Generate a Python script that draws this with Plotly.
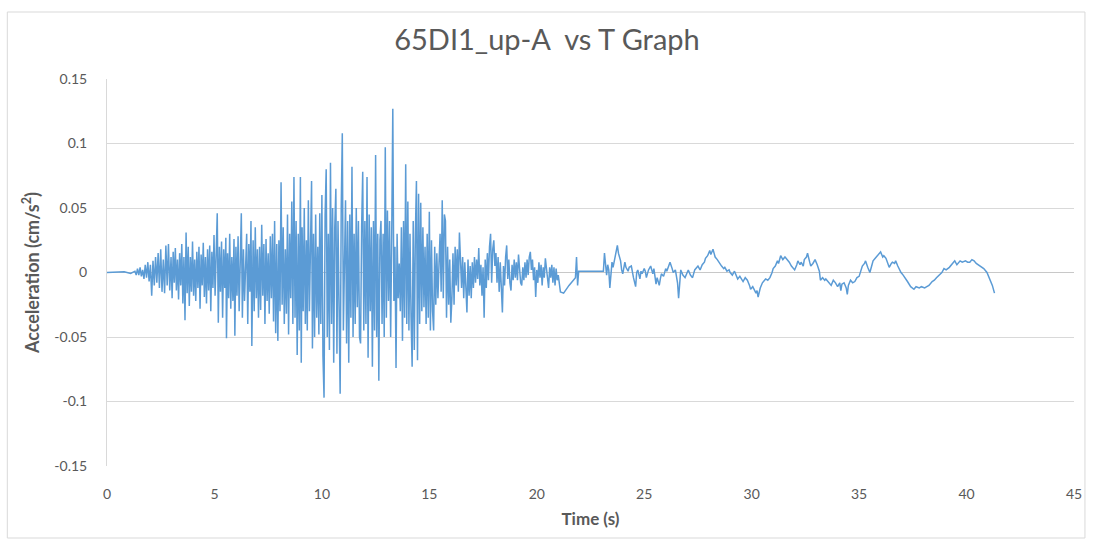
import plotly.graph_objects as go

# ---- data ----
TIME = [
 0, 0.4, 0.8, 1.1, 1.3,
 1.36, 1.42, 1.48, 1.54, 1.60, 1.66, 1.72, 1.78, 1.84, 1.90, 1.96, 2.02, 2.08, 2.14, 2.20,
 2.26, 2.32, 2.38, 2.44, 2.50, 2.56, 2.62, 2.68, 2.74, 2.80, 2.86, 2.92, 2.98,
 3.03, 3.08, 3.13, 3.18, 3.23, 3.28, 3.33, 3.38, 3.43, 3.48, 3.53, 3.58, 3.63, 3.68, 3.73, 3.78, 3.83, 3.88, 3.93, 3.98,
 4.03, 4.08, 4.13, 4.18, 4.23, 4.28, 4.33, 4.38, 4.43, 4.48, 4.53, 4.58, 4.63, 4.68, 4.73, 4.78, 4.83, 4.88, 4.93, 4.98,
 5.03, 5.08, 5.13, 5.18, 5.23, 5.28, 5.33, 5.38, 5.43, 5.48, 5.53, 5.56, 5.61, 5.66, 5.71, 5.76, 5.81, 5.86, 5.91, 5.95,
 6.00, 6.05, 6.10, 6.15, 6.20, 6.25, 6.30, 6.35, 6.40, 6.45, 6.50, 6.55, 6.60, 6.65, 6.70, 6.74, 6.80, 6.85, 6.90, 6.95,
 7.00, 7.05, 7.10, 7.15, 7.20, 7.25, 7.30, 7.35, 7.40, 7.45, 7.50, 7.55, 7.60, 7.65, 7.70, 7.75, 7.80, 7.85, 7.90, 7.95, 8.00,
 8.05, 8.10, 8.15, 8.20, 8.25, 8.30, 8.35, 8.40, 8.45, 8.50, 8.55, 8.60, 8.65, 8.70, 8.75, 8.80, 8.85, 8.90, 8.95, 9.00,
 9.04, 9.08, 9.13, 9.18, 9.23, 9.28, 9.32, 9.37, 9.42, 9.47, 9.52, 9.56, 9.61, 9.66, 9.71, 9.76, 9.81, 9.86, 9.90, 9.95, 10.00,
 10.05, 10.10, 10.15, 10.20, 10.25, 10.30, 10.35, 10.40, 10.45, 10.50, 10.55, 10.60, 10.65, 10.70, 10.75, 10.80, 10.85, 10.90, 10.95, 11.00,
 11.05, 11.10, 11.15, 11.20, 11.25, 11.30, 11.35, 11.40, 11.45, 11.50, 11.55, 11.60, 11.65, 11.70, 11.75, 11.80, 11.85, 11.90, 11.95, 12.00,
 12.05, 12.10, 12.15, 12.20, 12.25, 12.30, 12.35, 12.40, 12.45, 12.50, 12.55, 12.60, 12.65, 12.70, 12.75, 12.80, 12.85, 12.90, 12.95, 13.00,
 13.05, 13.10, 13.15, 13.20, 13.25, 13.30, 13.35, 13.40, 13.45, 13.50, 13.55, 13.60, 13.65, 13.70, 13.75, 13.80, 13.85, 13.90, 13.95, 14.00,
 14.05, 14.10, 14.15, 14.20, 14.25, 14.30, 14.35, 14.40, 14.45, 14.50, 14.55, 14.60, 14.65, 14.70, 14.75, 14.80, 14.85, 14.90, 14.95, 15.00,
 15.05, 15.10, 15.15, 15.20, 15.25, 15.30, 15.35, 15.40, 15.45, 15.50, 15.55, 15.60, 15.65, 15.70, 15.75, 15.80, 15.85, 15.90, 15.95, 16.00,
 16.05, 16.10, 16.15, 16.20, 16.25, 16.30, 16.35, 16.40, 16.45, 16.50, 16.55, 16.60, 16.65, 16.70, 16.75, 16.80, 16.85, 16.90, 16.95, 17.00,
 17.05, 17.10, 17.15, 17.20, 17.25, 17.30, 17.35, 17.40, 17.45, 17.50, 17.55, 17.60, 17.65, 17.70, 17.75, 17.80, 17.85, 17.90, 17.95, 18.00,
 18.05, 18.10, 18.15, 18.20, 18.25, 18.30, 18.35, 18.40, 18.45, 18.50, 18.55, 18.60, 18.65, 18.70, 18.75, 18.80, 18.85, 18.90, 18.95, 19.00,
 19.05, 19.10, 19.15, 19.20, 19.25, 19.30, 19.35, 19.40, 19.45, 19.50, 19.55, 19.60, 19.65, 19.70, 19.75, 19.80, 19.85, 19.90, 19.95, 20.00,
 20.05, 20.10, 20.15, 20.20, 20.25, 20.30, 20.35, 20.40, 20.45, 20.50, 20.55, 20.60, 20.65, 20.70, 20.75, 20.80, 20.85, 20.90, 20.95, 21.00,
 21.05, 21.10, 21.25, 21.50, 21.80, 21.85, 21.90, 21.95, 22.50, 23.10,
 23.15, 23.20, 23.25, 23.30, 23.35, 23.40, 23.45, 23.50, 23.55, 23.65, 23.75, 23.80, 23.90, 23.95, 24.00, 24.10, 24.15, 24.25, 24.30, 24.40,
 24.45, 24.50, 24.60, 24.65, 24.70, 24.80, 24.85, 24.90, 25.00, 25.05, 25.10, 25.20, 25.30, 25.35, 25.40, 25.45, 25.55, 25.60, 25.70, 25.75,
 25.80, 25.90, 26.00, 26.05, 26.15, 26.20, 26.30, 26.35, 26.45, 26.50, 26.55, 26.60, 26.65, 26.70, 26.80, 26.90, 27.00, 27.05, 27.15, 27.25,
 27.35, 27.45, 27.50, 27.60, 27.70, 27.80, 27.85, 27.95, 28.05, 28.10, 28.20, 28.25, 28.30, 28.40, 28.50, 28.60, 28.70, 28.75, 28.85, 28.95,
 29.00, 29.10, 29.20, 29.30, 29.35, 29.45, 29.55, 29.60, 29.70, 29.80, 29.90, 29.95, 30.05, 30.15, 30.20, 30.25, 30.30, 30.40, 30.50, 30.60,
 30.65, 30.75, 30.85, 30.95, 31.00, 31.10, 31.20, 31.25, 31.35, 31.45, 31.55, 31.60, 31.70, 31.75, 31.85, 31.95, 32.00, 32.10, 32.15, 32.25,
 32.30, 32.40, 32.45, 32.55, 32.60, 32.70, 32.75, 32.85, 32.95, 33.05, 33.15, 33.20, 33.30, 33.40, 33.45, 33.55, 33.65, 33.70, 33.80, 33.90,
 34.00, 34.10, 34.15, 34.20, 34.30, 34.40, 34.45, 34.50, 34.60, 34.70, 34.80, 34.90, 35.00, 35.10, 35.15, 35.25, 35.30, 35.40, 35.50, 35.60,
 35.65, 35.75, 35.85, 35.95, 36.00, 36.10, 36.15, 36.25, 36.30, 36.40, 36.50, 36.55, 36.65, 36.70, 36.80, 36.95, 37.05, 37.15, 37.25, 37.40,
 37.50, 37.55, 37.65, 37.80, 37.90, 38.05, 38.15, 38.25, 38.40, 38.50, 38.60, 38.75, 38.85, 38.95, 39.05, 39.20, 39.30, 39.45, 39.55, 39.70,
 39.80, 39.95, 40.05, 40.15, 40.25, 40.35, 40.45, 40.55, 40.70, 40.80, 40.95, 41.10, 41.20, 41.30,
]

ACC = [
 0, 0, 0.0005, -0.0008, 0.001,
 -0.002, 0.003, -0.002, 0.004, -0.003, 0.002, -0.005, 0.006, -0.004, 0.008, -0.007, 0.006, -0.018, 0.009, -0.010,
 0.012, -0.008, 0.015, -0.012, 0.018, -0.015, 0.010, -0.016, 0.021, -0.010, 0.022, -0.014, 0.012,
 -0.020, 0.016, -0.008, 0.019, -0.014, 0.010, -0.021, 0.015, -0.010, 0.022, -0.024, 0.012, -0.037, 0.031, -0.016, 0.020, -0.026, 0.012, -0.015, 0.024,
 -0.018, 0.010, -0.022, 0.016, -0.012, 0.020, -0.028, 0.014, -0.010, 0.023, -0.019, 0.012, -0.024, 0.018, -0.014, 0.021, -0.030, 0.016, -0.012, 0.029,
 -0.018, 0.014, 0.046, -0.039, 0.020, -0.015, 0.024, -0.035, 0.018, -0.012, 0.027, -0.051, 0.015, -0.020, 0.030, -0.028, 0.012, -0.022, 0.026, -0.049,
 0.020, -0.018, 0.028, -0.030, 0.015, 0.046, -0.035, 0.018, -0.022, 0.010, 0.030, -0.040, 0.022, -0.015, 0.040, -0.057, 0.025, -0.030, 0.035, -0.020,
 0.018, -0.035, 0.020, -0.029, 0.037, -0.018, 0.022, -0.040, 0.026, -0.022, 0.015, -0.032, 0.028, -0.020, 0.030, -0.038, 0.040, -0.047, 0.022, -0.053, 0.025,
 -0.030, 0.070, -0.025, 0.035, -0.040, 0.018, -0.032, 0.045, -0.048, 0.030, -0.020, 0.055, -0.040, 0.074, -0.035, 0.040, -0.064, 0.030, -0.045, 0.074,
 -0.070, 0.035, -0.030, 0.050, -0.040, 0.025, -0.045, 0.056, -0.030, 0.040, 0.071, -0.059, 0.030, -0.050, 0.045, -0.035, 0.020, -0.048, 0.046, -0.040, 0.060,
 -0.065, -0.097, 0.045, 0.080, -0.050, 0.030, -0.060, 0.085, -0.040, 0.050, -0.070, 0.035, 0.065, -0.063, 0.040, -0.050, -0.094, 0.050, 0.108, -0.045,
 0.030, 0.056, -0.055, 0.040, -0.070, 0.045, -0.035, 0.082, -0.050, 0.030, -0.040, 0.050, -0.027, 0.040, -0.050, -0.055, 0.035, 0.078, -0.045, 0.040,
 -0.040, 0.074, -0.066, 0.045, -0.030, 0.035, -0.073, 0.040, -0.045, 0.091, -0.050, 0.030, -0.084, 0.025, 0.040, -0.040, 0.030, -0.050, 0.097, -0.035,
 0.048, -0.022, 0.040, -0.050, 0.030, 0.127, -0.022, 0.020, -0.074, 0.030, -0.020, 0.007, -0.030, 0.035, -0.053, 0.040, -0.035, 0.084, -0.040, 0.055,
 -0.045, 0.030, -0.035, -0.073, 0.040, -0.060, 0.030, 0.071, -0.068, 0.061, -0.040, 0.054, -0.030, 0.035, -0.027, 0.020, -0.040, 0.030, -0.035, 0.047,
 -0.045, 0.025, -0.030, -0.045, 0.020, -0.025, 0.015, -0.020, 0.007, 0.030, -0.015, 0.056, -0.020, 0.045, 0.040, -0.035, 0.020, -0.025, 0.010, -0.039,
 -0.020, 0.015, -0.025, 0.020, -0.010, 0.018, -0.015, 0.031, 0.010, -0.012, 0.012, -0.020, 0.008, -0.015, -0.031, 0.010, -0.018, 0.005, -0.020, 0.008,
 -0.012, 0.012, -0.008, 0.010, -0.005, 0.019, -0.010, 0.006, -0.018, 0.004, -0.035, 0.010, -0.012, 0.015, -0.006, 0.020, 0.030, -0.008, 0.018, 0.025,
 0.005, 0.015, -0.008, 0.012, -0.015, 0.008, -0.012, -0.031, 0.005, -0.010, 0.012, 0.021, -0.005, 0.010, -0.008, -0.014, 0.006, -0.006, 0.010, -0.004,
 0.008, -0.006, 0.014, 0.002, -0.008, -0.010, 0.004, -0.006, 0.008, -0.004, 0.010, -0.002, 0.012, 0.016, 0.002, 0.010, -0.006, 0.004, -0.019, 0.002,
 -0.008, 0.008, -0.004, 0.006, -0.010, 0.004, -0.004, 0.011, 0.002, -0.006, -0.012, 0.004, -0.004, 0.006, -0.008, 0.004, -0.010, 0.003, -0.006, -0.002,
 -0.010, -0.015, -0.016, -0.010, -0.004, 0.012, -0.010, 0.001, 0.001, 0.001,
 0.015, 0.004, -0.002, 0.006, 0.002, -0.012, 0.002, 0.008, 0.004, 0.014, 0.021, 0.015, 0.009, 0.002, -0.001, 0.008, 0.004, 0.001, 0.004, 0.005,
 0.000, -0.004, -0.011, 0.000, 0.002, -0.005, 0.001, -0.001, 0.003, 0.001, -0.004, 0.002, 0.005, 0.001, -0.001, 0.003, -0.009, -0.004, -0.010, -0.005,
 -0.001, -0.003, 0.003, 0.001, 0.006, 0.008, 0.003, 0.000, 0.002, -0.003, -0.008, -0.020, -0.006, 0.002, -0.002, -0.004, 0.000, 0.002, -0.002, -0.004,
 0.002, 0.004, 0.005, 0.002, 0.006, 0.008, 0.011, 0.013, 0.017, 0.014, 0.018, 0.015, 0.012, 0.010, 0.007, 0.005, 0.003, 0.004, 0.001, 0.002,
 0.000, -0.002, 0.001, -0.003, -0.005, -0.003, -0.006, -0.007, -0.004, -0.006, -0.010, -0.013, -0.011, -0.015, -0.016, -0.014, -0.019, -0.012, -0.008, -0.006,
 -0.005, -0.006, -0.004, 0.000, 0.003, 0.005, 0.009, 0.007, 0.013, 0.010, 0.012, 0.011, 0.009, 0.008, 0.005, 0.003, 0.002, 0.006, 0.009, 0.006,
 0.008, 0.005, 0.010, 0.012, 0.015, 0.008, 0.005, 0.007, 0.010, 0.006, 0.001, -0.006, -0.004, -0.006, -0.005, -0.007, -0.009, -0.010, -0.006, -0.008,
 -0.011, -0.008, -0.014, -0.009, -0.008, -0.012, -0.017, -0.010, -0.006, -0.008, -0.007, -0.004, -0.003, 0.002, 0.005, 0.007, 0.009, 0.004, 0.000, 0.006,
 0.009, 0.011, 0.013, 0.015, 0.016, 0.012, 0.013, 0.011, 0.009, 0.004, 0.007, 0.008, 0.007, 0.009, 0.005, 0.000, -0.002, -0.005, -0.007, -0.011,
 -0.012, -0.013, -0.011, -0.012, -0.011, -0.012, -0.011, -0.010, -0.007, -0.006, -0.004, -0.002, 0.000, 0.003, 0.002, 0.004, 0.006, 0.009, 0.006, 0.009,
 0.008, 0.009, 0.008, 0.008, 0.010, 0.009, 0.007, 0.006, 0.004, 0.003, 0.000, -0.006, -0.010, -0.016,
]

Y_TICKS = [0.15, 0.1, 0.05, 0, -0.05, -0.1, -0.15]
Y_TICK_TEXT = ["0.15", "0.1", "0.05", "0", "-0.05", "-0.1", "-0.15"]
X_TICKS = [0, 5, 10, 15, 20, 25, 30, 35, 40, 45]
X_TICK_TEXT = ["0", "5", "10", "15", "20", "25", "30", "35", "40", "45"]

TITLE = "65DI1_up-A  vs T Graph"
X_TITLE = "Time (s)"
Y_TITLE = "Acceleration (cm/s<sup>2</sup>)"

FONT = "Lato, 'Open Sans', sans-serif"
GREY_TXT = "#595959"
GRID = "#D9D9D9"

fig = go.Figure()
fig.add_trace(go.Scatter(
    x=TIME, y=ACC, mode="lines",
    line=dict(color="#5B9BD5", width=1.5),
    showlegend=False, hoverinfo="skip",
))

W, H = 1094, 543
L, R, T, B = 107, 17, 79, 77
pw, ph = W - L - R, H - T - B

def px2paper_x(px):
    return (px - L) / pw

def px2paper_y(py):
    return (H - B - py) / ph

fig.update_layout(
    width=W, height=H,
    margin=dict(l=L, r=R, t=T, b=B, pad=0),
    paper_bgcolor="white", plot_bgcolor="white",
    font=dict(family=FONT, color=GREY_TXT, size=14),
    title=dict(text=TITLE, x=0.5, xanchor="center", y=1 - 40 / H, yanchor="middle",
               font=dict(family=FONT, size=29, color=GREY_TXT)),
    xaxis=dict(
        range=[0, 45], tickvals=X_TICKS, ticktext=X_TICK_TEXT,
        showgrid=False, zeroline=False, showline=False, ticks="",
        ticklabelstandoff=18,
        tickfont=dict(size=14, color=GREY_TXT),
        title=dict(text=X_TITLE, font=dict(size=17, color=GREY_TXT, weight="bold"), standoff=12),
        fixedrange=True,
    ),
    yaxis=dict(
        range=[-0.15, 0.15], tickvals=Y_TICKS, ticktext=Y_TICK_TEXT,
        showgrid=True, gridcolor=GRID, gridwidth=1,
        zeroline=True, zerolinecolor="#C8C8C8", zerolinewidth=1,
        showline=True, linecolor=GRID, linewidth=1, mirror=False,
        ticks="", ticklabelstandoff=16,
        tickfont=dict(size=14, color=GREY_TXT),
        title=dict(text=Y_TITLE, font=dict(size=18, color=GREY_TXT, weight="bold"), standoff=10),
        fixedrange=True,
    ),
    shapes=[dict(
        type="rect", xref="paper", yref="paper",
        x0=px2paper_x(7), x1=px2paper_x(1088), y0=px2paper_y(538), y1=px2paper_y(12),
        line=dict(color="#D9D9D9", width=1), fillcolor="rgba(0,0,0,0)", layer="below",
    )],
)

fig.write_html("out.html")
